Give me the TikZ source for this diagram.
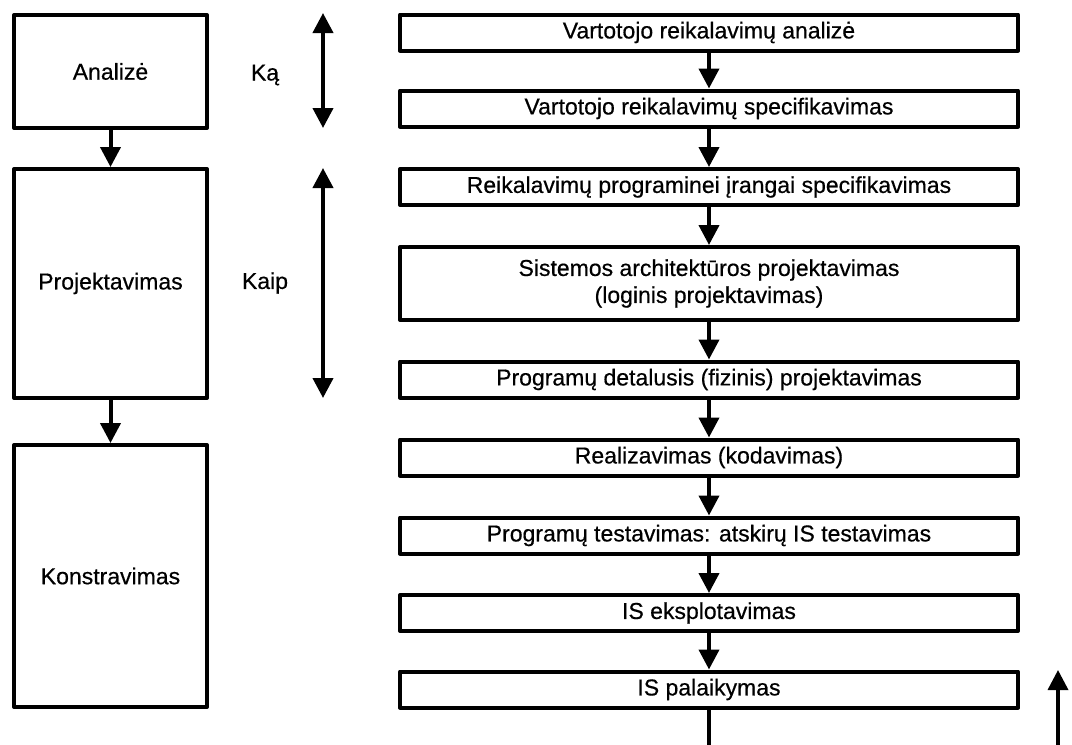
\documentclass[tikz,border=0pt]{standalone}
\usepackage{fontspec}
\setmainfont{Liberation Sans}
\newfontfamily\diagfont{Liberation Sans}[FakeBold=0.5]
\usetikzlibrary{arrows.meta}
\begin{document}
\begin{tikzpicture}[x=1pt,y=-1pt,
  txt/.style={font=\diagfont\fontsize{23}{27}\selectfont},
  box/.style={draw, line width=4pt, line join=round, fill=white, inner sep=0pt,
              align=center, txt},
  stage/.style={box, minimum width=193pt},
  activity/.style={box, minimum width=618pt, minimum height=36pt},
  flow/.style={line width=4pt, -{Triangle[length=20pt,width=20pt]}},
  span/.style={line width=4pt, {Triangle[length=20pt,width=20pt]}-{Triangle[length=20pt,width=20pt]}},
]
\useasboundingbox (0,0) rectangle (1072,745);

% phases
\node[stage, minimum height=113pt] (analize) at (110.5,71.5) {Analizė};
\node[stage, minimum height=229pt] (projekt) at (110.5,283.5) {Projektavimas};
\node[stage, minimum height=262pt] (konstr)  at (110.5,576) {Konstravimas};
\draw[flow] (analize.south) -- (projekt.north);
\draw[flow] (projekt.south) -- (konstr.north);

% what / how
\node[txt] (ka)   at (265,75)  {Ką};
\node[txt] (kaip) at (265,283) {Kaip};
\coordinate (kaTop) at (323,13);
\coordinate (kaBot) at (323,128);
\coordinate (kaipTop) at (323,168);
\coordinate (kaipBot) at (323,398);
\draw[span] (kaTop) -- (kaBot);
\draw[span] (kaipTop) -- (kaipBot);

% activities
\node[activity] (a1) at (709,32.5)  {Vartotojo reikalavimų analizė};
\node[activity] (a2) at (709,108.5) {Vartotojo reikalavimų specifikavimas};
\node[activity] (a3) at (709,187)   {Reikalavimų programinei įrangai specifikavimas};
\node[activity, minimum height=73pt] (a4) at (709,283.5)
  {Sistemos architektūros projektavimas\\(loginis projektavimas)};
\node[activity] (a5) at (709,379.5) {Programų detalusis (fizinis) projektavimas};
\node[activity] (a6) at (709,457.5) {Realizavimas (kodavimas)};
\node[activity] (a7) at (709,535.5) {Programų testavimas: atskirų IS testavimas};
\node[activity] (a8) at (709,613)   {IS eksplotavimas};
\node[activity] (a9) at (709,689.5) {IS palaikymas};
\foreach \u/\v in {a1/a2,a2/a3,a3/a4,a4/a5,a5/a6,a6/a7,a7/a8,a8/a9}
  \draw[flow] (\u.south) -- (\v.north);

% loop back
\coordinate (out) at (709,745);
\draw[line width=4pt] (a9.south) -- (out);
\coordinate (backFrom) at (1058,745);
\coordinate (backTo) at (1058,670);
\draw[flow, line width=3.5pt] (backFrom) -- (backTo);
\end{tikzpicture}
\end{document}
